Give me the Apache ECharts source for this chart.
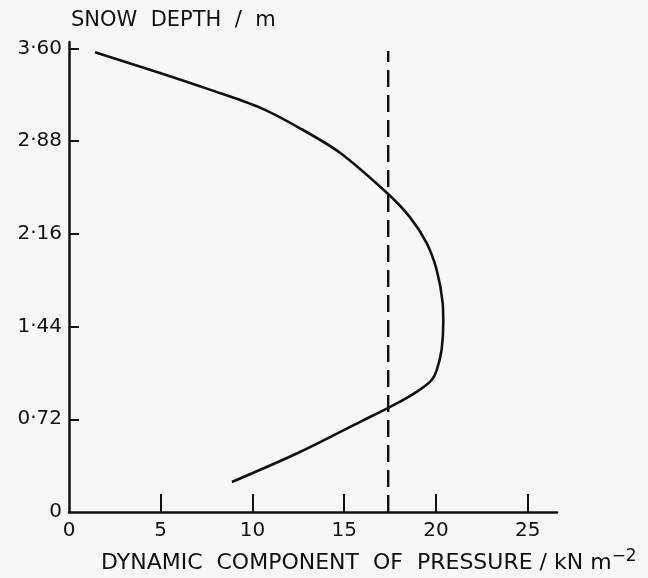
<!DOCTYPE html>
<html>
<head>
<meta charset="utf-8">
<script src="https://cdn.jsdelivr.net/npm/echarts@6/dist/echarts.min.js"></script>
<style>
html,body{margin:0;padding:0;background:#f7f8f6;}
#c{width:648px;height:578px;}
</style>
</head>
<body>
<div id="c"></div>
<script>
// Data
var xTickValues = [0, 5, 10, 15, 20, 25];
var xTickLabels = ['0', '5', '10', '15', '20', '25'];
var yTickValues = [0, 0.72, 1.44, 2.16, 2.88, 3.60];
var yTickLabels = ['0', '0·72', '1·44', '2·16', '2·88', '3·60'];

// Pressure profile (x: dynamic pressure kN m^-2, y: snow depth m), along the curve
var curvePressure = [1.42, 4.96, 7.68, 10.41, 12.59, 14.77, 17.35, 18.58, 19.49, 20.04, 20.37, 20.40, 20.31, 20.04, 19.77, 19.13, 18.22, 17.35, 16.0, 12.59, 8.88];
var curveDepth    = [3.57, 3.41, 3.28, 3.14, 2.98, 2.79, 2.475, 2.29, 2.09, 1.88, 1.62, 1.465, 1.26, 1.10, 1.025, 0.95, 0.87, 0.805, 0.71, 0.466, 0.233];

// Dashed reference line
var dashedPressure = 17.4;
var dashedTop = 3.58;

var yName = 'SNOW  DEPTH  /  m';
var xName = 'DYNAMIC  COMPONENT  OF  PRESSURE / kN m';
var xNameSup = '−2';

var curveData = curvePressure.map(function (v, i) { return [v, curveDepth[i]]; });
var dashedData = [[dashedPressure, 0], [dashedPressure, dashedTop]];

var FONT = 'DejaVu Sans';
var INK = '#111';

var chart = echarts.init(document.getElementById('c'), null, {renderer: 'canvas'});
chart.setOption({
  backgroundColor: '#f7f8f6',
  animation: false,
  title: [
    {text: yName, left: 66, top: 5, textStyle: {fontFamily: FONT, fontSize: 21, fontWeight: 'normal', color: INK}},
    {text: '{a|' + xName + '}{s|' + xNameSup + '}', left: 96, top: 543,
     textStyle: {fontWeight: 'normal', rich: {
       a: {fontFamily: FONT, fontSize: 22, fontWeight: 'normal', color: INK, verticalAlign: 'bottom'},
       s: {fontFamily: FONT, fontSize: 17, fontWeight: 'normal', color: INK, verticalAlign: 'bottom', padding: [0, 0, 9, 0]}
     }}}
  ],
  grid: {left: 69, right: 91, top: 42, bottom: 66, containLabel: false},
  xAxis: {
    type: 'value', min: 0, max: 26.6,
    axisLine: {show: true, lineStyle: {color: INK, width: 2.5}},
    axisTick: {show: true, inside: true, length: 18, lineStyle: {color: INK, width: 2}, customValues: xTickValues.slice(1)},
    axisLabel: {customValues: xTickValues, margin: 9, fontFamily: FONT, fontSize: 20, color: INK,
      formatter: function (v) { var i = xTickValues.indexOf(v); return i >= 0 ? xTickLabels[i] : ''; }},
    splitLine: {show: false}
  },
  yAxis: {
    type: 'value', min: 0, max: 3.65,
    axisLine: {show: true, lineStyle: {color: INK, width: 2.5}},
    axisTick: {show: true, inside: true, length: 10, lineStyle: {color: INK, width: 2}, customValues: yTickValues.slice(1)},
    axisLabel: {customValues: yTickValues, margin: 7, fontFamily: FONT, fontSize: 20, color: INK,
      formatter: function (v) {
        for (var i = 0; i < yTickValues.length; i++) { if (Math.abs(yTickValues[i] - v) < 1e-6) return yTickLabels[i]; }
        return '';
      }},
    splitLine: {show: false}
  },
  series: [
    {type: 'line', data: curveData, smooth: 0.3, showSymbol: false, symbol: 'none',
     lineStyle: {color: INK, width: 2.6}},
    {type: 'line', data: dashedData, showSymbol: false, symbol: 'none',
     lineStyle: {color: INK, width: 2.4, type: [17, 8]}}
  ]
});
</script>
</body>
</html>
